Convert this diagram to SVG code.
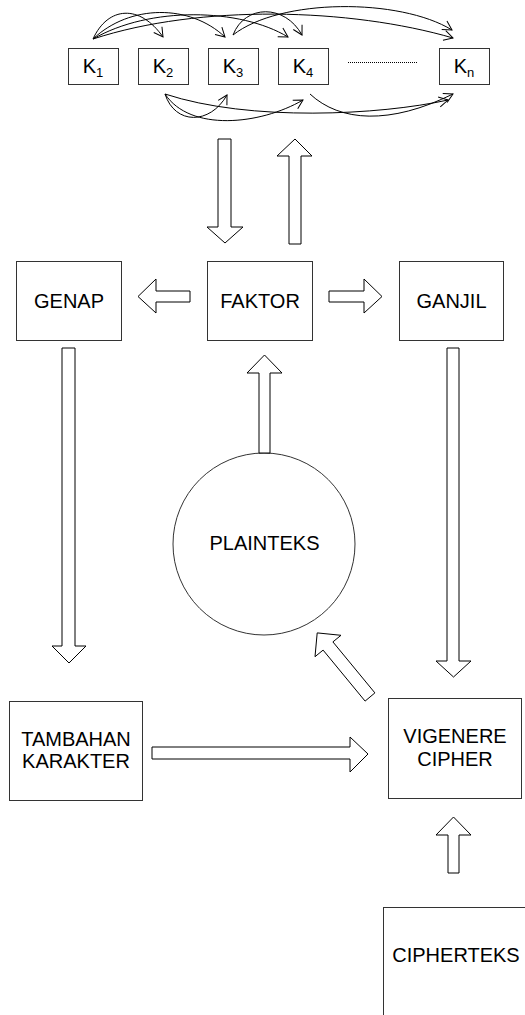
<svg xmlns="http://www.w3.org/2000/svg" width="525" height="1015" viewBox="0 0 525 1015">
<style>
.box{fill:#fff;stroke:#333;stroke-width:1}
.blk{fill:#fff;stroke:#000;stroke-width:1}
.cur{fill:none;stroke:#000;stroke-width:1}
.t{font-family:"Liberation Sans",Arial,sans-serif;font-size:20px;fill:#000;text-anchor:middle}
.s{font-size:13px}
</style>
<defs>
<marker id="v" markerUnits="userSpaceOnUse" markerWidth="12" markerHeight="12" refX="10" refY="6" orient="auto">
<path d="M1,1 L10,6 L1,11" fill="none" stroke="#000" stroke-width="1"/>
</marker>
</defs>
<rect width="525" height="1015" fill="#fff"/>

<g id="k1"><rect class="box" x="68.5" y="48.5" width="50" height="36"/><text class="t" x="93" y="73">K<tspan class="s" dy="4">1</tspan></text></g>
<g id="k2"><rect class="box" x="138.5" y="48.5" width="50" height="36"/><text class="t" x="163" y="73">K<tspan class="s" dy="4">2</tspan></text></g>
<g id="k3"><rect class="box" x="208.5" y="48.5" width="50" height="36"/><text class="t" x="233" y="73">K<tspan class="s" dy="4">3</tspan></text></g>
<g id="k4"><rect class="box" x="278.5" y="48.5" width="50" height="36"/><text class="t" x="303" y="73">K<tspan class="s" dy="4">4</tspan></text></g>
<g id="kn"><rect class="box" x="439.5" y="48.5" width="50" height="36"/><text class="t" x="464" y="73">K<tspan class="s" dy="4">n</tspan></text></g>

<g id="genap"><rect class="box" x="16.5" y="261.5" width="105" height="79"/><text class="t" x="69" y="308">GENAP</text></g>
<g id="faktor"><rect class="box" x="207.5" y="261.5" width="105" height="79"/><text class="t" x="260" y="308">FAKTOR</text></g>
<g id="ganjil"><rect class="box" x="399.5" y="261.5" width="104" height="79"/><text class="t" x="451.5" y="308">GANJIL</text></g>
<g id="plainteks"><circle class="box" cx="264" cy="544" r="91"/><text class="t" x="264.5" y="550">PLAINTEKS</text></g>
<g id="tambahan"><rect class="box" x="9.5" y="701.5" width="133" height="99"/><text class="t" x="76" y="746">TAMBAHAN</text><text class="t" x="76" y="768">KARAKTER</text></g>
<g id="vigenere"><rect class="box" x="388.5" y="698.5" width="133" height="100"/><text class="t" x="455" y="743">VIGENERE</text><text class="t" x="455" y="766">CIPHER</text></g>
<g id="cipherteks"><rect class="box" x="383.5" y="907.5" width="160" height="130"/><text class="t" x="456" y="962">CIPHERTEKS</text></g>

<g id="connectors">
<line x1="348" y1="62.5" x2="418" y2="62.5" stroke="#000" stroke-width="1" stroke-dasharray="1,1"/>
<path class="cur" marker-end="url(#v)" d="M93,39 C108,6 140,4 163,37"/>
<path class="cur" marker-end="url(#v)" d="M93,39 C130,4 190,4 225,37"/>
<path class="cur" marker-end="url(#v)" d="M93,39 C150,6 240,8 288,37"/>
<path class="cur" marker-end="url(#v)" d="M93,39 C200,4 350,8 453,38"/>
<path class="cur" marker-end="url(#v)" d="M233,35 C245,4 285,4 302,35"/>
<path class="cur" marker-end="url(#v)" d="M233,35 C280,-2 400,-2 452,30"/>
<path class="cur" marker-end="url(#v)" d="M165,94 C175,125 210,125 227,95"/>
<path class="cur" marker-end="url(#v)" d="M165,94 C190,132 260,125 303,100"/>
<path class="cur" marker-end="url(#v)" d="M165,94 C250,122 380,115 448,100"/>
<path class="cur" marker-end="url(#v)" d="M310,94 C340,122 390,125 453,94"/>

<polygon class="blk" points="218,139 231,139 231,227 243,227 225,243 207,227 218,227"/>
<polygon class="blk" points="289,244 301,244 301,156 312,156 295,139 277,156 289,156"/>
<polygon class="blk" points="190,291 190,302 156,302 156,313 138,296.5 156,279 156,291"/>
<polygon class="blk" points="329,291 364,291 364,279 382,296.5 364,313 364,302 329,302"/>
<polygon class="blk" points="259,453 270,453 270,373 282,373 264.5,355 247,373 259,373"/>
<polygon class="blk" points="62,348 75,348 75,646 86,646 69,663 52,646 62,646"/>
<polygon class="blk" points="447,348 459,348 459,661 471,661 453.5,677 436,661 447,661"/>
<polygon class="blk" points="152,747 350,747 350,737 368,754 350,772 350,759 152,759"/>
<polygon class="blk" points="448,873 459,873 459,835 471,835 453.5,817 436,835 448,835"/>
<polygon class="blk" points="365.1,701.1 374.9,692.9 332.9,641.9 341,635.3 317.2,632.9 315,656.7 323.1,650.1"/>
</g>
</svg>
